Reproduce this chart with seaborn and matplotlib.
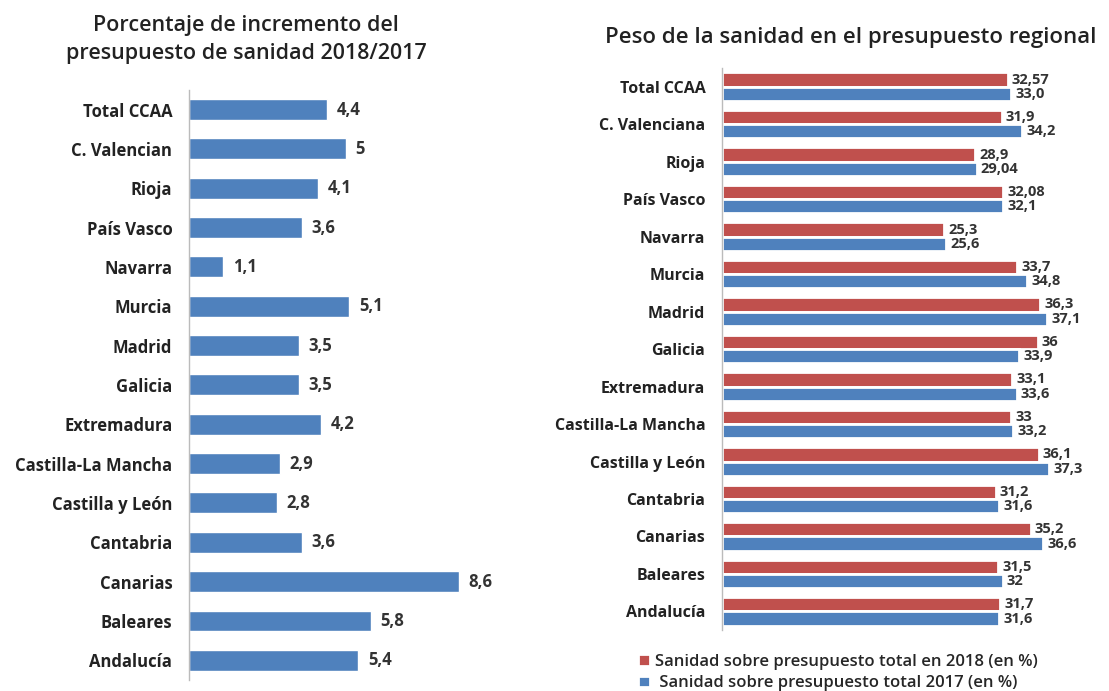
import pandas as pd
import matplotlib.pyplot as plt
import seaborn as sns

# ------------------ Data ------------------
regions_left = ['Total CCAA', 'C. Valencian', 'Rioja', 'País Vasco', 'Navarra',
                'Murcia', 'Madrid', 'Galicia', 'Extremadura', 'Castilla-La Mancha',
                'Castilla y León', 'Cantabria', 'Canarias', 'Baleares', 'Andalucía']
incremento = [4.4, 5, 4.1, 3.6, 1.1, 5.1, 3.5, 3.5, 4.2, 2.9, 2.8, 3.6, 8.6, 5.8, 5.4]
incremento_txt = ['4,4', '5', '4,1', '3,6', '1,1', '5,1', '3,5', '3,5', '4,2', '2,9',
                  '2,8', '3,6', '8,6', '5,8', '5,4']

regions_right = ['Total CCAA', 'C. Valenciana', 'Rioja', 'País Vasco', 'Navarra',
                 'Murcia', 'Madrid', 'Galicia', 'Extremadura', 'Castilla-La Mancha',
                 'Castilla y León', 'Cantabria', 'Canarias', 'Baleares', 'Andalucía']
peso_2018 = [32.57, 31.9, 28.9, 32.08, 25.3, 33.7, 36.3, 36, 33.1, 33, 36.1, 31.2, 35.2, 31.5, 31.7]
peso_2017 = [33.0, 34.2, 29.04, 32.1, 25.6, 34.8, 37.1, 33.9, 33.6, 33.2, 37.3, 31.6, 36.6, 32, 31.6]
peso_2018_txt = ['32,57', '31,9', '28,9', '32,08', '25,3', '33,7', '36,3', '36', '33,1',
                 '33', '36,1', '31,2', '35,2', '31,5', '31,7']
peso_2017_txt = ['33,0', '34,2', '29,04', '32,1', '25,6', '34,8', '37,1', '33,9', '33,6',
                 '33,2', '37,3', '31,6', '36,6', '32', '31,6']
series = ['Sanidad sobre presupuesto total en 2018 (en %)',
          ' Sanidad sobre presupuesto total 2017 (en %)']

BLUE = '#4F81BD'
RED = '#C0504D'

sns.set_theme(style='white')
plt.rcParams['font.family'] = ['Open Sans', 'DejaVu Sans']

fig = plt.figure(figsize=(11.09, 6.91), dpi=100)

# ------------------ Left chart ------------------
ax1 = fig.add_axes([0.1704, 0.016, 0.30, 0.854])
df_left = pd.DataFrame({'region': regions_left, 'valor': incremento})
sns.barplot(data=df_left, y='region', x='valor', color=BLUE, width=0.53,
            saturation=1, ax=ax1)
ax1.bar_label(ax1.containers[0], labels=incremento_txt, padding=7,
              fontsize=12, fontweight='bold', color='#333333')
ax1.set_xlim(0, 10.6)
ax1.set_ylim(14.5, -0.5)
ax1.set_xlabel('')
ax1.set_ylabel('')
ax1.set_xticks([])
ax1.tick_params(axis='y', length=0, pad=12)
for lab in ax1.get_yticklabels():
    lab.set_fontsize(12)
    lab.set_fontweight('bold')
    lab.set_color('#222222')
for s in ['top', 'right', 'bottom']:
    ax1.spines[s].set_visible(False)
ax1.spines['left'].set_color('#BBBBBB')
ax1.spines['left'].set_linewidth(1)
fig.text(0.222, 0.943, 'Porcentaje de incremento del\npresupuesto de sanidad 2018/2017',
         ha='center', va='center', fontsize=15.5, fontweight='semibold',
         color='#222222', linespacing=1.45)

# ------------------ Right chart ------------------
ax2 = fig.add_axes([0.651, 0.088, 0.34, 0.8136])
df_right = pd.DataFrame({
    'region': regions_right * 2,
    'valor': peso_2018 + peso_2017,
    'serie': [series[0]] * len(regions_right) + [series[1]] * len(regions_right),
})
sns.barplot(data=df_right, y='region', x='valor', hue='serie',
            palette=[RED, BLUE], width=0.76, saturation=1,
            edgecolor='white', linewidth=2, ax=ax2)
ax2.bar_label(ax2.containers[0], labels=peso_2018_txt, padding=3,
              fontsize=10.5, fontweight='bold', color='#333333')
ax2.bar_label(ax2.containers[1], labels=peso_2017_txt, padding=3,
              fontsize=10.5, fontweight='bold', color='#333333')
ax2.set_xlim(0, 43)
ax2.set_ylim(14.5, -0.5)
ax2.set_xlabel('')
ax2.set_ylabel('')
ax2.set_xticks([])
ax2.tick_params(axis='y', length=0, pad=12)
for lab in ax2.get_yticklabels():
    lab.set_fontsize(11.5)
    lab.set_fontweight('bold')
    lab.set_color('#222222')
for s in ['top', 'right', 'bottom']:
    ax2.spines[s].set_visible(False)
ax2.spines['left'].set_color('#BBBBBB')
ax2.spines['left'].set_linewidth(1)
ax2.legend(loc='upper left', bbox_to_anchor=(-0.262, -0.015), frameon=False,
           handlelength=0.7, handleheight=0.7, handletextpad=0.3,
           labelspacing=0.35, prop={'weight': 'semibold', 'size': 12})
fig.text(0.767, 0.946, 'Peso de la sanidad en el presupuesto regional',
         ha='center', va='center', fontsize=16, fontweight='semibold',
         color='#222222')

fig.savefig('out.png', dpi=100)
